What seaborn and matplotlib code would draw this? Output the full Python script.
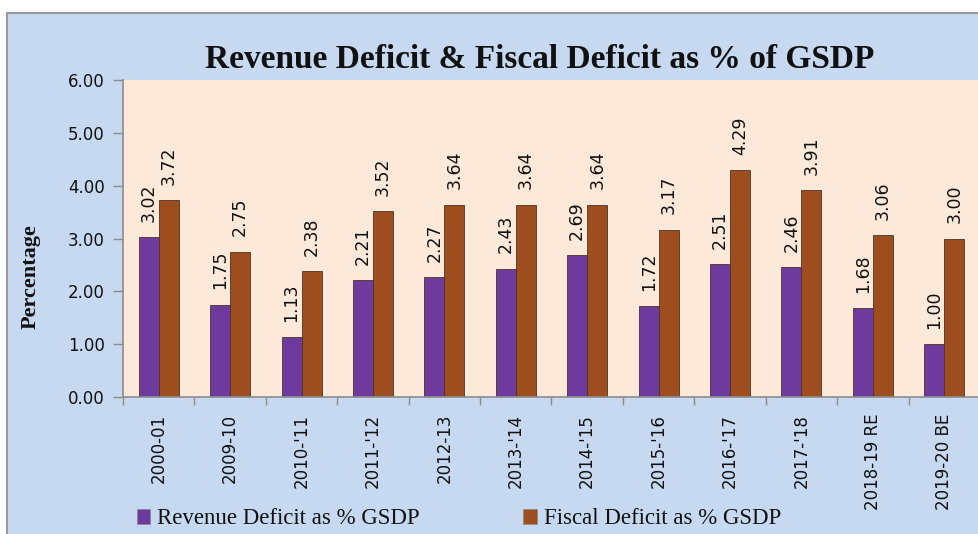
import matplotlib
matplotlib.use("Agg")
import matplotlib.pyplot as plt
import matplotlib.patches as mpatches
import seaborn as sns
import pandas as pd
import numpy as np

categories = ["2000-01", "2009-10", "2010-'11", "2011-'12", "2012-13", "2013-'14",
              "2014-'15", "2015-'16", "2016-'17", "2017-'18", "2018-19 RE", "2019-20 BE"]
revenue_deficit = [3.02, 1.75, 1.13, 2.21, 2.27, 2.43, 2.69, 1.72, 2.51, 2.46, 1.68, 1.00]
fiscal_deficit = [3.72, 2.75, 2.38, 3.52, 3.64, 3.64, 3.64, 3.17, 4.29, 3.91, 3.06, 3.00]
series_names = ["Revenue Deficit as % GSDP", "Fiscal Deficit as % GSDP"]
y_ticks = [0, 1, 2, 3, 4, 5, 6]

df = pd.DataFrame({
    "Year": categories * 2,
    "Value": revenue_deficit + fiscal_deficit,
    "Series": [series_names[0]] * len(categories) + [series_names[1]] * len(categories),
})

sns.set_theme(style="white")
plt.rcParams["font.family"] = ["DejaVu Sans"]

BG = "#C6D9F0"
PLOT_BG = "#FDE9D9"
PURPLE = "#6E3A9E"
ORANGE = "#9E4D1F"

W, H = 979, 534
fig = plt.figure(figsize=(W / 100, H / 100), dpi=100)
fig.patch.set_facecolor("white")
# outer chart frame
frame = mpatches.Rectangle((7 / W, -0.01), 1.0, 1.01 - 13 / H, transform=fig.transFigure,
                           facecolor=BG, edgecolor="#9A9A9A", linewidth=1.5, zorder=-10)
fig.patches.append(frame)

ax = fig.add_axes([123 / W, 1 - 397 / H, (980 - 123) / W, (397 - 80) / H])
ax.set_zorder(1)
ax.set_facecolor(PLOT_BG)

sns.barplot(data=df, x="Year", y="Value", hue="Series", order=categories,
            hue_order=series_names, palette=[PURPLE, ORANGE], width=0.56, gap=0,
            edgecolor="#4a3326", linewidth=0.6, saturation=1, ax=ax, legend=False)

for cont in ax.containers:
    ax.bar_label(cont, fmt="%.2f", rotation=90, padding=11, fontsize=12.5, color="#111111")

ax.set_ylim(0, 6)
ax.set_xlim(-0.5, len(categories) - 0.5)
ax.set_yticks(y_ticks)
ax.set_yticklabels([f"{v:.2f}" for v in y_ticks], fontsize=12, color="#111111")
ax.set_xticks(range(len(categories)))
ax.set_xticklabels(categories, rotation=90, fontsize=12, color="#111111", va="top")
ax.tick_params(axis="x", which="major", length=0, pad=12)
ax.set_xticks(np.arange(-0.5, len(categories), 1), minor=True)
ax.tick_params(axis="x", which="minor", length=6, color="#8C8C8C", width=1, direction="out", bottom=True)
ax.tick_params(axis="y", length=7, color="#8C8C8C", width=1, direction="out", left=True, pad=6)
ax.set_xlabel("")
ax.set_ylabel("")
for s in ["top", "right"]:
    ax.spines[s].set_visible(False)
for s in ["left", "bottom"]:
    ax.spines[s].set_color("#8C8C8C")
    ax.spines[s].set_linewidth(1.2)

fig.text(540 / W, 1 - 59 / H, "Revenue Deficit & Fiscal Deficit as % of GSDP",
         ha="center", va="center", fontsize=24, fontweight="bold",
         family="Liberation Serif", color="#111111")
fig.text(31 / W, 1 - 277 / H, "Percentage", rotation=90, ha="center", va="center",
         fontsize=16, fontweight="bold", family="Liberation Serif", color="#111111")

handles = [mpatches.Patch(facecolor=PURPLE, edgecolor="#888888", linewidth=0.5),
           mpatches.Patch(facecolor=ORANGE, edgecolor="#888888", linewidth=0.5)]
leg = fig.legend(handles, series_names, loc="center left",
                 bbox_to_anchor=(116 / W, 1 - 519 / H), ncol=2, frameon=False,
                 handlelength=0.6, handleheight=0.6, handletextpad=0.3,
                 columnspacing=4.5, prop={"family": "Liberation Serif", "size": 16.5})
for t in leg.get_texts():
    t.set_color("#111111")

fig.savefig("out.png", dpi=100, facecolor=fig.get_facecolor())
